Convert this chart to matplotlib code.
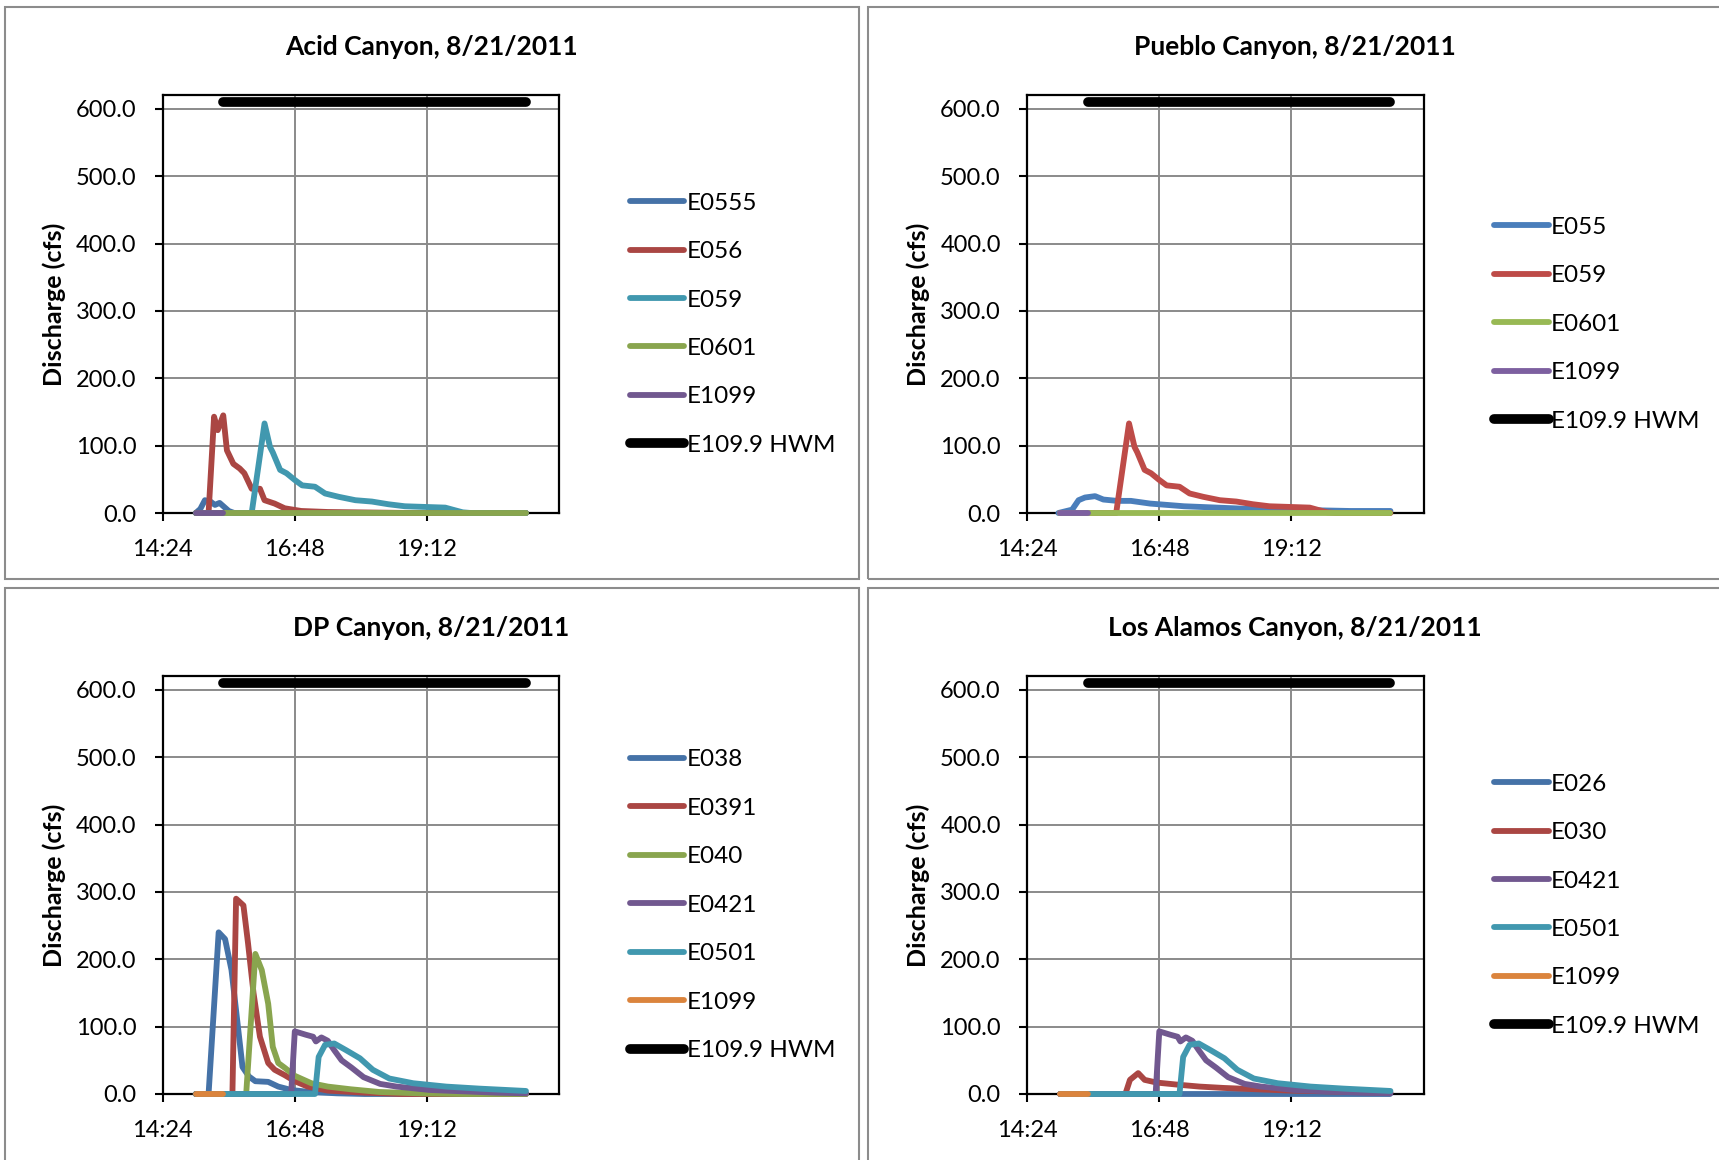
import matplotlib.pyplot as plt
from matplotlib.patches import Rectangle
from matplotlib.ticker import FixedLocator, FuncFormatter

plt.rcParams['font.family'] = ['Lato', 'DejaVu Sans']

W, H = 1719, 1160

# gauges that show up in more than one canyon
hwm_t = ["15:30", "21:00"]
hwm_q = [610, 610]
e1099_t = ["15:00", "15:30"]
e1099_q = [0, 0]
e0601_t = ["15:00", "21:00"]
e0601_q = [0, 0]
e059_t = ["15:00", "16:01", "16:15", "16:21", "16:24", "16:32", "16:39", "16:48", "16:56", "17:10",
          "17:21", "17:36", "17:54", "18:12", "18:30", "18:48", "19:10", "19:32", "19:40", "19:51",
          "20:00", "21:00"]
e059_q = [0, 0, 133, 98, 90, 64, 59, 49, 41, 39,
          29, 24, 19, 17, 13, 10, 9, 8, 5, 1,
          0, 0]
e0421_t = ["15:00", "16:44", "16:48", "17:00", "17:08", "17:11", "17:17", "17:24", "17:31", "17:39",
           "17:50", "18:03", "18:21", "18:39", "19:15", "19:51", "20:28", "21:00"]
e0421_q = [0, 0, 93, 88, 85, 78, 84, 79, 65, 50,
           39, 25, 15, 11, 6, 4, 2, 1]
e0501_t = ["15:00", "17:10", "17:14", "17:21", "17:31", "17:44", "17:59", "18:13", "18:31", "18:57",
           "19:33", "20:09", "21:00"]
e0501_q = [0, 0, 55, 73, 75, 65, 53, 36, 23, 16,
           11, 8, 4.5]

# Acid Canyon
e0555_t = ["15:00", "15:05", "15:10", "15:16", "15:21", "15:26", "15:31", "15:36", "15:42", "21:00"]
e0555_q = [0, 6, 19, 17, 12, 15, 9, 3, 0, 0]
e056_t = ["15:00", "15:14", "15:20", "15:24", "15:30", "15:34", "15:41", "15:48", "15:53", "16:01",
          "16:10", "16:15", "16:26", "16:37", "16:55", "17:24", "18:24", "18:54", "21:00"]
e056_q = [0, 0, 143, 123, 145, 93, 73, 66, 59, 36,
          36, 19, 14, 7, 3, 1.5, 0.5, 0, 0]

# Pueblo Canyon
e055_t = ["14:58", "15:13", "15:20", "15:27", "15:38", "15:47", "16:02", "16:17", "16:38", "17:15",
          "17:51", "18:27", "19:04", "19:40", "20:16", "21:00"]
e055_q = [0, 5, 19, 23, 25, 20, 18, 18, 14, 10,
          8, 6, 5, 4, 3, 3]

# DP Canyon
e038_t = ["15:00", "15:14", "15:25", "15:32", "15:39", "15:46", "15:51", "15:58", "16:05", "16:19",
          "16:30", "16:44", "17:04", "17:34", "18:04", "21:00"]
e038_q = [0, 0, 240, 230, 184, 100, 40, 26, 19, 18,
          11, 6, 3, 1, 0, 0]
e0391_t = ["15:00", "15:40", "15:44", "15:52", "15:57", "16:03", "16:10", "16:19", "16:26", "16:37",
           "16:48", "17:02", "17:24", "18:04", "18:44", "21:00"]
e0391_q = [0, 0, 290, 280, 224, 150, 85, 46, 36, 28,
           19, 11, 5, 2, 0, 0]
e040_t = ["15:00", "15:55", "16:05", "16:12", "16:19", "16:24", "16:30", "16:37", "16:48", "17:06",
          "17:24", "17:49", "18:20", "19:04", "19:54", "21:00"]
e040_q = [0, 0, 208, 184, 134, 70, 46, 39, 27, 16,
          11, 7, 3, 1, 0, 0]

# Los Alamos Canyon
e026_t = ["15:00", "21:00"]
e026_q = [0, 0]
e030_t = ["15:00", "16:11", "16:16", "16:25", "16:32", "16:45", "17:07", "17:32", "17:58", "18:34",
          "19:11", "19:47", "20:23", "21:00"]
e030_q = [0, 0, 21, 31, 21, 17, 14, 11, 9, 7,
          5, 4, 3, 2]

y_ticks = [0, 100, 200, 300, 400, 500, 600]
x_ticks = [14.4, 16.8, 19.2]

BLUE, RED, GREEN, PURPLE, TEAL, ORANGE = '#4572A7', '#AA4643', '#89A54E', '#71588F', '#4198AF', '#DB843D'


def hours(ts):
    return [int(t.split(':')[0]) + int(t.split(':')[1]) / 60 for t in ts]


def clock(x, pos):
    m = int(round(x * 60))
    return '%d:%02d' % (m // 60, m % 60)


def frac_rect(x0, y0, x1, y1):
    # pixel box (top-left origin) -> figure fraction
    return [x0 / W, 1 - y1 / H, (x1 - x0) / W, (y1 - y0) / H]


def panel(fig, box, axbox, title, series):
    r = frac_rect(*box)
    fig.patches.append(Rectangle(r[:2], r[2], r[3], transform=fig.transFigure,
                                 fill=False, edgecolor='#8c8c8c', lw=1.5))
    fig.text((box[0] + box[2]) / 2 / W, 1 - (box[1] + 40) / H, title,
             ha='center', va='center', fontsize=19, fontweight='bold')

    ax = fig.add_axes(frac_rect(*axbox))
    for label, t, q, color in series:
        lw = 7 if label.endswith('HWM') else 4.2
        ax.plot(hours(t), q, color=color, lw=lw, label=label, clip_on=False,
                solid_capstyle='round', solid_joinstyle='round', zorder=3)

    ax.set_xlim(14.4, 21.6)
    ax.set_ylim(0, 620)
    ax.xaxis.set_major_locator(FixedLocator(x_ticks))
    ax.xaxis.set_major_formatter(FuncFormatter(clock))
    ax.yaxis.set_major_locator(FixedLocator(y_ticks))
    ax.yaxis.set_major_formatter(FuncFormatter(lambda v, p: '%.1f' % v))
    ax.tick_params(direction='out', length=6, width=1.5, labelsize=17, color='black')
    ax.tick_params(axis='x', pad=13)
    ax.tick_params(axis='y', pad=13)
    ax.grid(True, color='#8a8a8a', lw=1.4)
    ax.set_axisbelow(True)
    for s in ax.spines.values():
        s.set_linewidth(1.6)
        s.set_color('black')

    ax.set_ylabel('Discharge (cfs)', fontsize=18, fontweight='bold', labelpad=7)

    ax.legend(loc='center left', bbox_to_anchor=(1.178, 0.452), frameon=False,
              fontsize=17.5, handlelength=2.25, handletextpad=0.1,
              labelspacing=1.13, borderpad=0, borderaxespad=0)
    return ax


fig = plt.figure(figsize=(W / 100, H / 100), dpi=100)

panel(fig, (4.5, 7, 858.5, 579), (162.7, 95.4, 559, 513),
      'Acid Canyon, 8/21/2011',
      [('E0555', e0555_t, e0555_q, BLUE),
       ('E056', e056_t, e056_q, RED),
       ('E059', e059_t, e059_q, TEAL),
       ('E0601', e0601_t, e0601_q, GREEN),
       ('E1099', e1099_t, e1099_q, PURPLE),
       ('E109.9 HWM', hwm_t, hwm_q, 'black')])

panel(fig, (868.3, 7, 1722, 579), (1027.2, 95.4, 1423.5, 513),
      'Pueblo Canyon, 8/21/2011',
      [('E055', e055_t, e055_q, '#4A7EBB'),
       ('E059', e059_t, e059_q, '#BE4B48'),
       ('E0601', e0601_t, e0601_q, '#98B954'),
       ('E1099', e1099_t, e1099_q, '#7D60A0'),
       ('E109.9 HWM', hwm_t, hwm_q, 'black')])

panel(fig, (4.5, 587.6, 858.5, 1163), (162.7, 676.4, 559, 1094),
      'DP Canyon, 8/21/2011',
      [('E038', e038_t, e038_q, BLUE),
       ('E0391', e0391_t, e0391_q, RED),
       ('E040', e040_t, e040_q, GREEN),
       ('E0421', e0421_t, e0421_q, PURPLE),
       ('E0501', e0501_t, e0501_q, TEAL),
       ('E1099', e1099_t, e1099_q, ORANGE),
       ('E109.9 HWM', hwm_t, hwm_q, 'black')])

panel(fig, (868.3, 587.6, 1722, 1163), (1027.2, 676.4, 1423.5, 1094),
      'Los Alamos Canyon, 8/21/2011',
      [('E026', e026_t, e026_q, BLUE),
       ('E030', e030_t, e030_q, RED),
       ('E0421', e0421_t, e0421_q, PURPLE),
       ('E0501', e0501_t, e0501_q, TEAL),
       ('E1099', e1099_t, e1099_q, ORANGE),
       ('E109.9 HWM', hwm_t, hwm_q, 'black')])

fig.savefig('out.png', dpi=100)
